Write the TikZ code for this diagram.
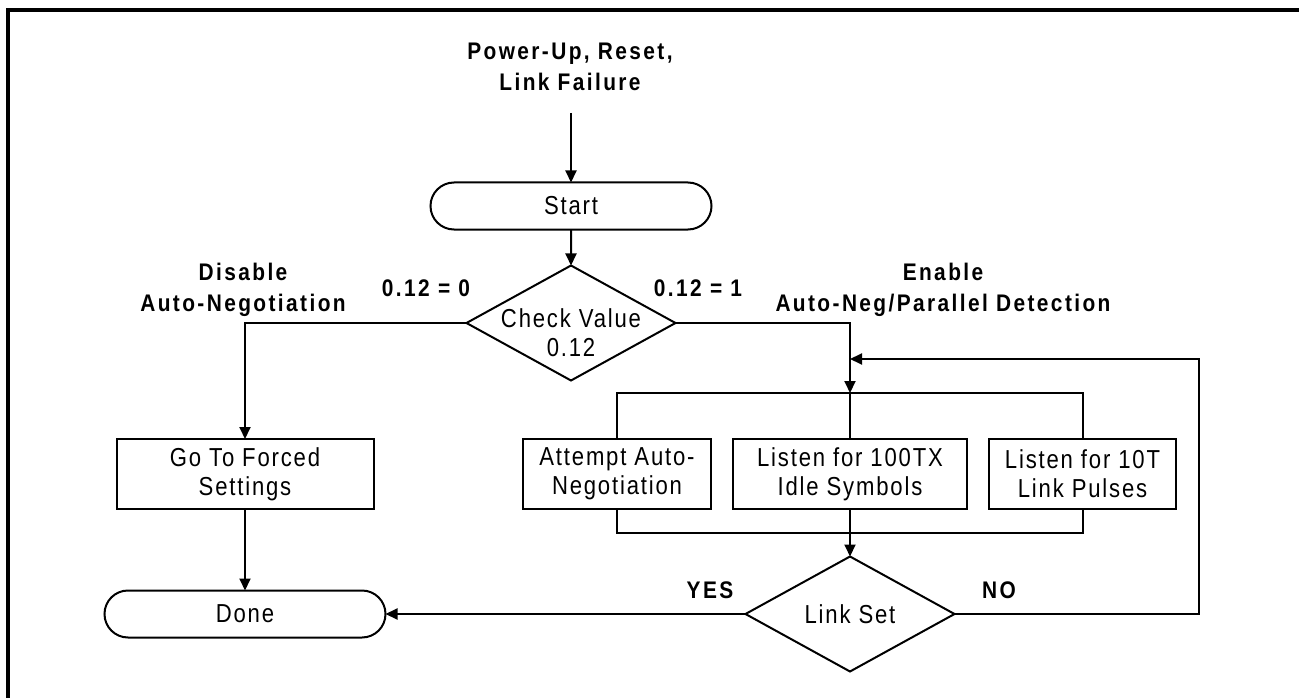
\documentclass[tikz,border=0pt]{standalone}
\usepackage{fontspec}
\usetikzlibrary{shapes.geometric,shapes.misc,arrows.meta}
\newfontfamily\regf{Liberation Sans}[FakeStretch=0.85,LetterSpace=7]
\newfontfamily\boldf{Liberation Sans}[FakeStretch=0.87,LetterSpace=10]
\begin{document}
\begin{tikzpicture}[x=1pt,y=-1pt,
  every node/.style={inner sep=0pt,outer sep=0pt},
  line/.style={line width=2pt},
  arr/.style={line width=2pt,-{Triangle[length=12pt,width=11pt]}},
  txt/.style={font={\regf\fontsize{26}{29}\selectfont},align=center},
  lbl/.style={font={\boldf\bfseries\fontsize{24}{31}\selectfont},align=center},
  proc/.style={draw,line width=2pt,rectangle,minimum height=70pt,txt},
  term/.style={draw,line width=2pt,rounded rectangle,minimum width=281pt,minimum height=47pt,txt},
  dec/.style={draw,line width=2pt,diamond,minimum width=209pt,minimum height=115pt}
]
\useasboundingbox (0,0) rectangle (1299,698);
\fill[white] (0,0) rectangle (1299,698);
% frame
\draw[line width=4pt] (8,720) -- (8,10) -- (1320,10);

% labels
\node[lbl] (pw) at (570,67) {Power-Up, Reset,\\Link Failure};
\coordinate (pwend) at (571,113);
\node[lbl] (dis) at (243,290) {Disable\\Auto-Negotiation};
\node[lbl] (en) at (943,290) {Enable\\Auto-Neg/Parallel Detection};
\node[lbl] (c0) at (426,288) {0.12 = 0};
\node[lbl] (c1) at (698,288) {0.12 = 1};
\node[lbl] (yes) at (710,590) {YES};
\node[lbl] (no) at (999,590) {NO};

% nodes
\node[term] (start) at (571,206) {Start};
\node[dec] (chk) at (571,323) {};
\node[txt] (chkt) at (571,333) {Check Value\\0.12};
\node[proc,minimum width=257pt] (forced) at (245,474) {Go To Forced\\Settings};
\node[term] (done) at (245,614) {Done};
\node[proc,minimum width=188pt] (att) at (617,474) {Attempt Auto-\\Negotiation};
\node[proc,minimum width=234pt] (tx) at (850,474) {Listen for 100TX\\Idle Symbols};
\node[proc,minimum width=187pt] (ten) at (1082.5,474) {Listen for 10T\\Link Pulses};
\node[dec] (ls) at (850,614) {};
\node[txt] (lst) at (850,614) {Link Set};

\coordinate (brtop) at (850,393);
\coordinate (brbot) at (850,533);
\coordinate (loopr) at (1199,614);
\coordinate (loopin) at (850,359);

% connectors
\draw[arr] (pwend) -- (start.north);
\draw[arr] (start) -- (chk);
\draw[arr] (chk.west) -| (forced.north);
\draw[arr] (forced) -- (done);
\draw[arr] (chk.east) -| (brtop);
\draw[line] (att.north) |- (brtop) -| (ten.north);
\draw[line] (brtop) -- (tx.north);
\draw[line] (att.south) |- (brbot) -| (ten.south);
\draw[line] (tx.south) -- (brbot);
\draw[arr] (brbot) -- (ls.north);
\draw[arr] (ls.west) -- (done.east);
\draw[arr] (ls.east) -- (loopr) |- (loopin);
\end{tikzpicture}
\end{document}
